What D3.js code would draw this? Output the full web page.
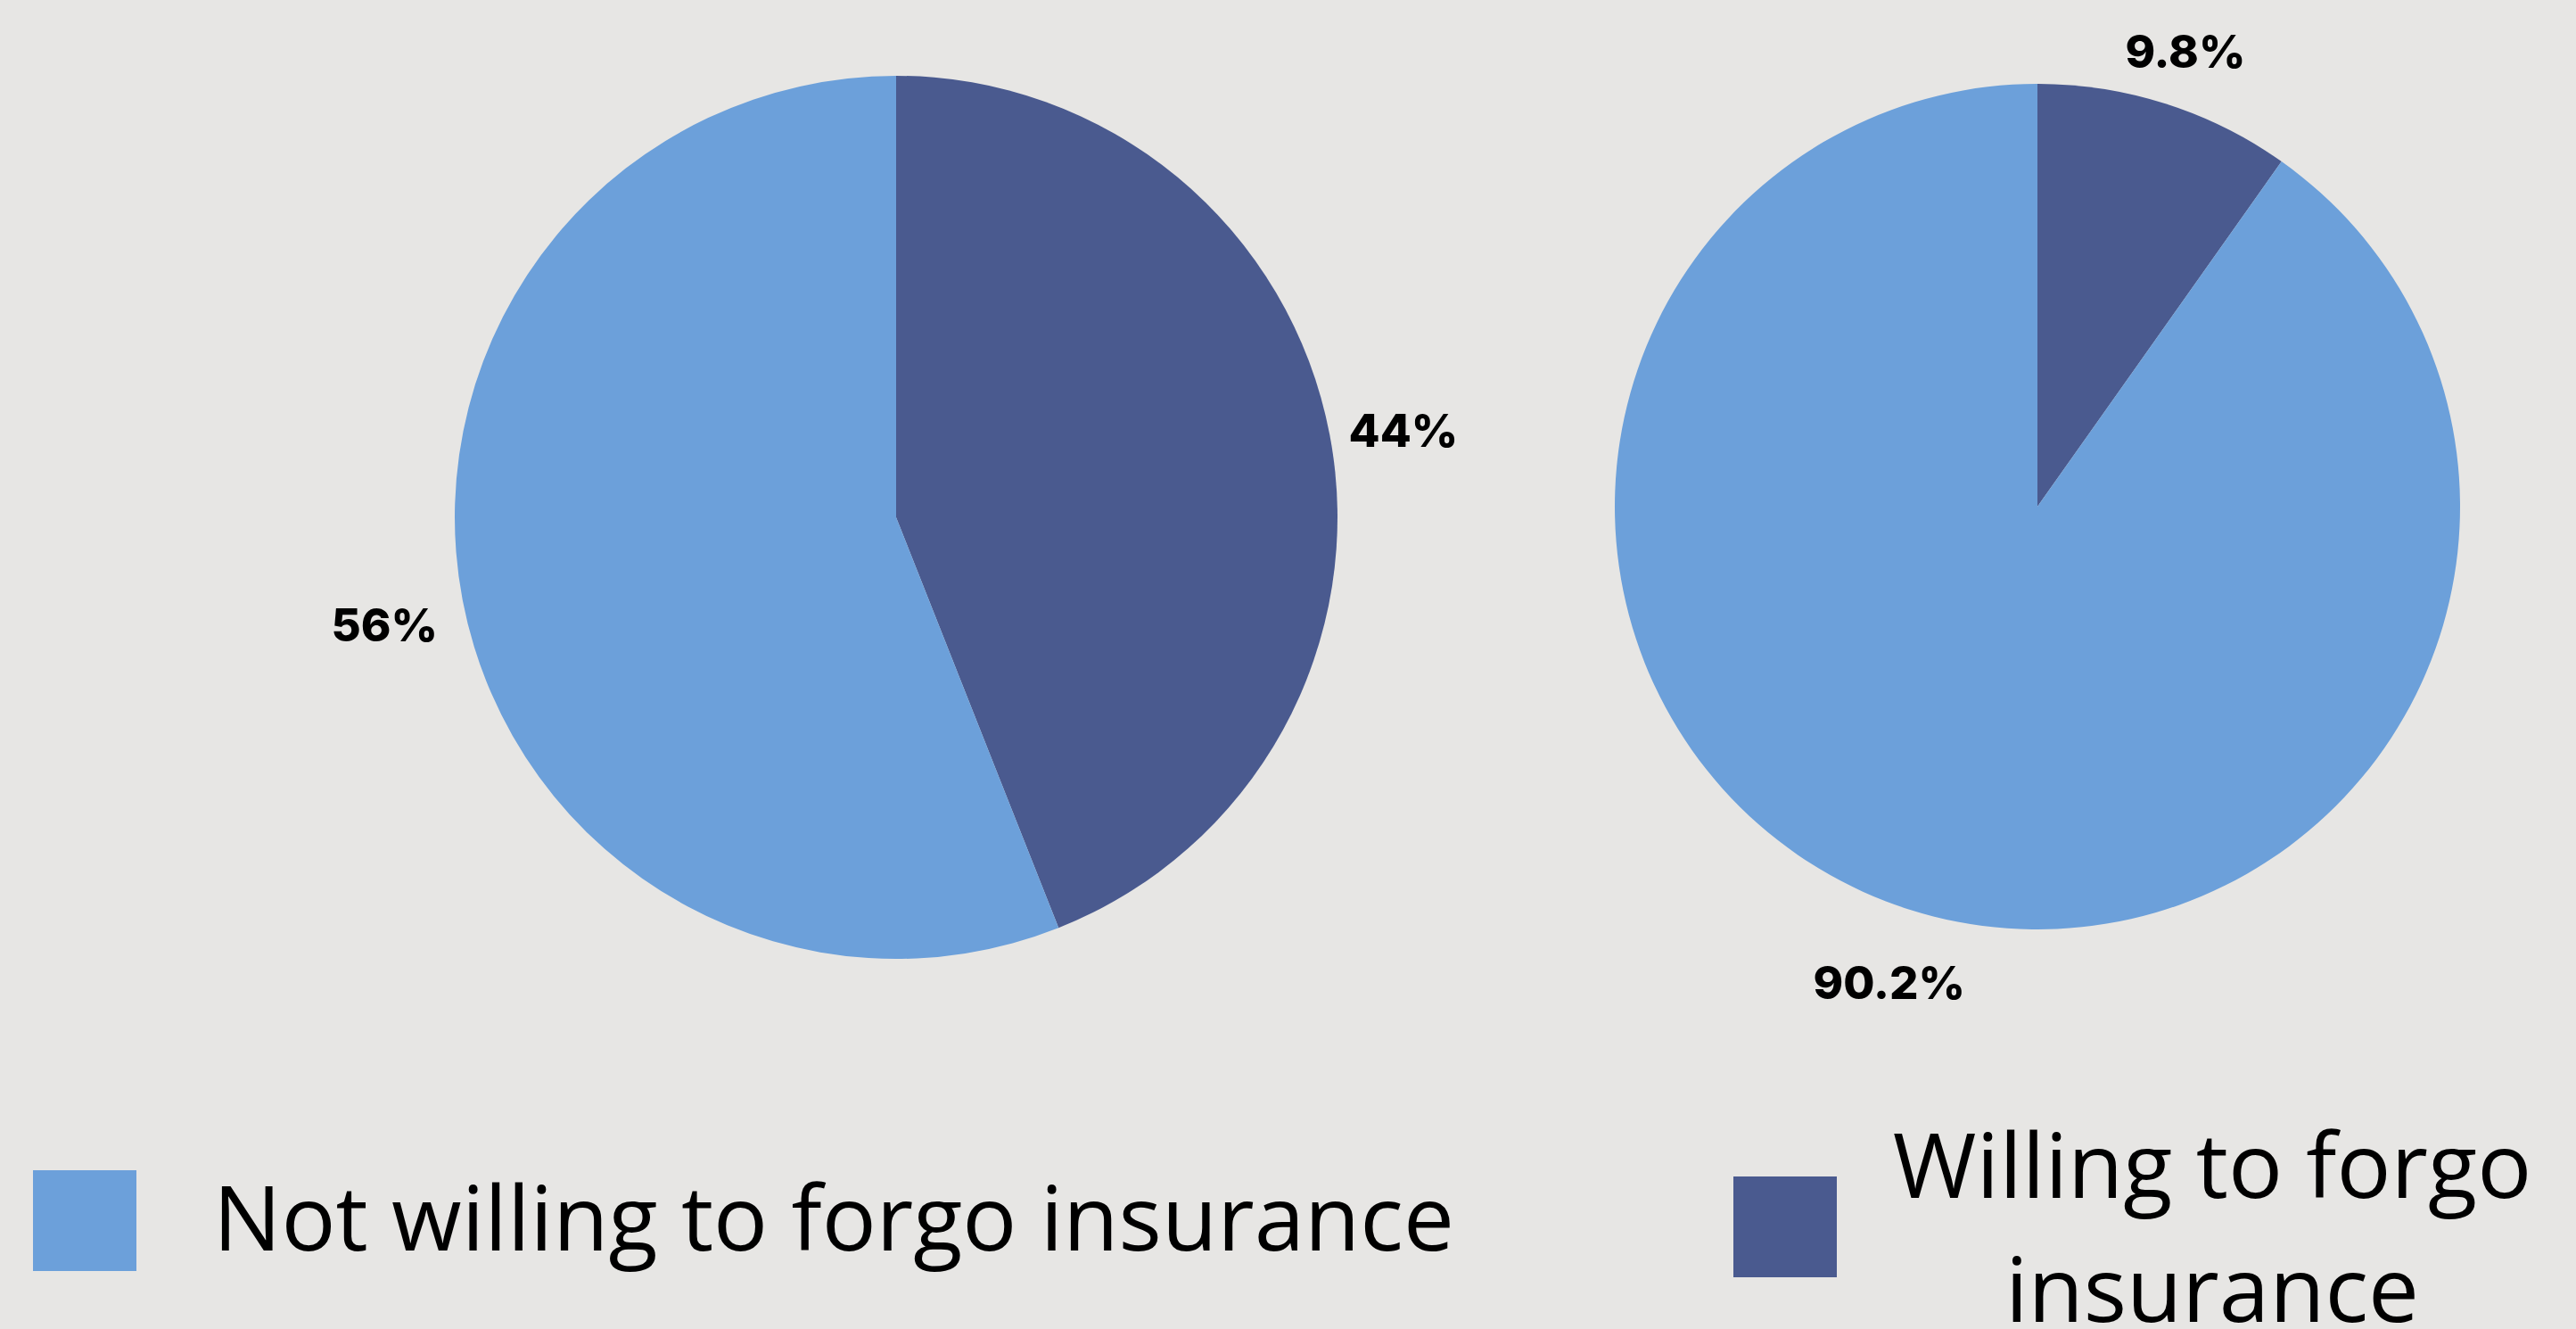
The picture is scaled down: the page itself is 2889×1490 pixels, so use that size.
<!DOCTYPE html>
<html>
<head>
<meta charset="utf-8">
<script src="https://cdn.jsdelivr.net/npm/d3@7"></script>
<style>
  html, body { margin: 0; padding: 0; background: #e7e6e4; }
  svg { display: block; }
</style>
</head>
<body>
<div id="chart"></div>
<script>
// data
const categories = ["Willing to forgo insurance", "Not willing to forgo insurance"];
const pieLeftValues = [44, 56];
const pieRightValues = [9.8, 90.2];
const pieLeftLabels = ["44%", "56%"];
const pieRightLabels = ["9.8%", "90.2%"];
const legendOrder = ["Not willing to forgo insurance", "Willing to forgo insurance"];

const width = 2889;
const height = 1490;

const colorScale = d3.scaleOrdinal()
    .domain(categories)
    .range(["#4a5a8f", "#6ca0da"]);

const svg = d3.select("#chart")
    .append("svg")
    .attr("width", width)
    .attr("height", height);

svg.append("rect")
    .attr("width", width)
    .attr("height", height)
    .attr("fill", "#e7e6e4");

const pie = d3.pie().sort(null).value(d => d);

// one pie per survey group
function drawPie(values, labels, cx, cy, r, labelFactors) {
    const g = svg.append("g").attr("transform", `translate(${cx},${cy})`);
    const arcs = pie(values);
    const arc = d3.arc().innerRadius(0).outerRadius(r);

    g.selectAll(".slice")
        .data(arcs)
        .enter()
        .append("path")
        .attr("class", "slice")
        .attr("d", arc)
        .attr("fill", (d, i) => colorScale(categories[i]));

    g.selectAll(".sliceLabel")
        .data(arcs)
        .enter()
        .append("text")
        .attr("class", "sliceLabel")
        .attr("transform", (d, i) => {
            const lr = r * labelFactors[i];
            const c = d3.arc().innerRadius(lr).outerRadius(lr).centroid(d);
            return `translate(${c[0]},${c[1]})`;
        })
        .attr("dy", "0.58em")
        .attr("text-anchor", "middle")
        .style("font-family", "Inter, 'Open Sans', sans-serif")
        .style("font-weight", 800)
        .style("font-size", "51px")
        .style("fill", "#000")
        .text((d, i) => labels[i]);
}

drawPie(pieLeftValues, pieLeftLabels, 1005, 580, 495, [1.17, 1.18]);
drawPie(pieRightValues, pieRightLabels, 2285, 568, 474, [1.155, 1.157]);

// legend
const legend = svg.append("g").attr("class", "legend");
const swatch = 116;

legend.append("rect")
    .attr("x", 37)
    .attr("y", 1312)
    .attr("width", swatch)
    .attr("height", 113)
    .attr("fill", colorScale(legendOrder[0]));

legend.append("text")
    .attr("x", 239)
    .attr("y", 1402)
    .style("font-family", "'Open Sans', sans-serif")
    .style("font-size", "101.5px")
    .style("fill", "#000")
    .text(legendOrder[0]);

legend.append("rect")
    .attr("x", 1944)
    .attr("y", 1319)
    .attr("width", swatch)
    .attr("height", 113)
    .attr("fill", colorScale(legendOrder[1]));

const words = legendOrder[1].split(" ");
const lines = [words.slice(0, 3).join(" "), words.slice(3).join(" ")];

legend.append("text")
    .attr("x", 2481)
    .attr("y", 1343)
    .attr("text-anchor", "middle")
    .style("font-family", "'Open Sans', sans-serif")
    .style("font-size", "101.5px")
    .style("fill", "#000")
    .selectAll("tspan")
    .data(lines)
    .enter()
    .append("tspan")
    .attr("x", 2481)
    .attr("dy", (d, i) => i === 0 ? 0 : 139)
    .text(d => d);
</script>
</body>
</html>
